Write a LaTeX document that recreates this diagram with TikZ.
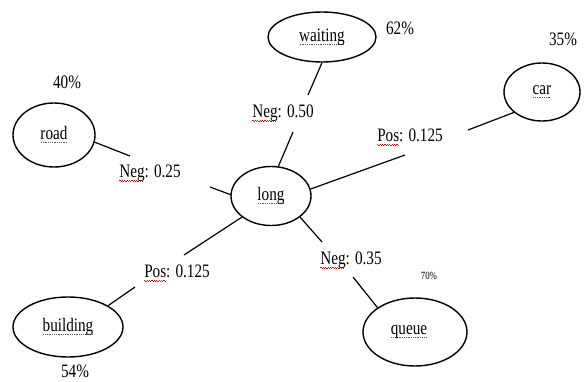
\documentclass[tikz,border=0pt]{standalone}
\usepackage{fontspec}
\setmainfont{Liberation Serif}[FakeStretch=0.8]
\usetikzlibrary{shapes.geometric}
\newsavebox\myubox
\newcommand\redwave[1]{\sbox\myubox{#1}\rlap{\leaders\hbox to 2.4pt{{\color{red}\vrule width 1.2pt height -2.6pt depth 3.4pt\vrule width 1.2pt height -3.4pt depth 4.2pt}}\hskip\wd\myubox}\usebox\myubox}
\newcommand\dotund[1]{\sbox\myubox{#1}\rlap{\leaders\hbox to 1.8pt{\hss{\color{black!65}\vrule width 0.8pt height -2.6pt depth 3.4pt}\hss}\hskip\wd\myubox}\usebox\myubox}
\begin{document}
\begin{tikzpicture}[x=1pt,y=-1pt,
  word/.style={ellipse,draw,line width=1.4pt,inner sep=0pt,font=\fontsize{19}{21}\selectfont},
  lab/.style={inner sep=0pt,font=\fontsize{19}{21}\selectfont},
  small/.style={inner sep=0pt,font=\fontsize{11}{12}\selectfont},
  conn/.style={line width=1.2pt}]
\useasboundingbox (0,0) rectangle (584,381);
% word nodes
\node[word,minimum width=108,minimum height=50] (waiting) at (322,37) {\dotund{waiting}};
\node[word,minimum width=76,minimum height=58] (car) at (542,92) {\dotund{car}};
\node[word,minimum width=82,minimum height=64] (road) at (54,135) {\dotund{road}};
\node[word,minimum width=80,minimum height=59] (long) at (271,196) {\dotund{long}};
\node[word,minimum width=110,minimum height=60] (building) at (68,327) {\dotund{building}};
\node[word,minimum width=104,minimum height=68] (queue) at (415,332) {\hspace*{-12pt}\dotund{queue}};
% edge labels
\node[lab] (n50) at (283,113) {\redwave{Neg}: 0.50};
\node[lab] (n25) at (150,173) {\redwave{Neg}: 0.25};
\node[lab] (p1) at (410,137) {\redwave{Pos}: 0.125};
\node[lab] (p2) at (177,273) {\redwave{Pos}: 0.125};
\node[lab] (n35) at (351,260) {\redwave{Neg}: 0.35};
% percentages
\node[lab] (pc40) at (67,82) {40\%};
\node[lab] (pc62) at (400,28) {62\%};
\node[lab] (pc35) at (563,39) {35\%};
\node[lab] (pc54) at (75,371) {54\%};
\node[small] (pc70) at (429,276) {70\%};
% free ends of connectors
\coordinate (a1) at (308,95);
\coordinate (a2) at (293,132);
\coordinate (a3) at (405,155);
\coordinate (a4) at (468,130);
\coordinate (a5) at (130,156);
\coordinate (a6) at (210,187);
\coordinate (a7) at (184,255);
\coordinate (a8) at (135,287);
\coordinate (a9) at (322,242);
\coordinate (a10) at (353,277);
% connectors
\draw[conn] (waiting.south) -- (a1);
\draw[conn] (a2) -- (long.76);
\draw[conn] (long.10) -- (a3);
\draw[conn] (a4) -- (car.216);
\draw[conn] (road.350) -- (a5);
\draw[conn] (a6) -- (long.178);
\draw[conn] (long.216) -- (a7);
\draw[conn] (a8) -- (building.28);
\draw[conn] (long.324) -- (a9);
\draw[conn] (a10) -- (queue.147);
\end{tikzpicture}
\end{document}
